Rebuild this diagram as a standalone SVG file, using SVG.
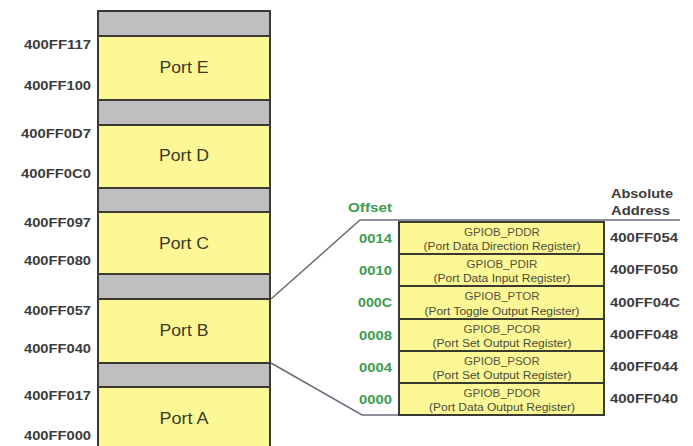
<svg xmlns="http://www.w3.org/2000/svg" width="693" height="446" viewBox="0 0 693 446">
<style>
.bg{fill:#ffffff}
.blk{fill:#FDF896;stroke:#3a3a30;stroke-width:2}
.gap{fill:#BFBFC2;stroke:#3a3a30;stroke-width:2}
.reg{fill:#FDF896;stroke:#3a3a30;stroke-width:2}
.addr{font-family:"Liberation Sans",Arial,sans-serif;font-weight:bold;font-size:13px;fill:#3c3c3c}
.port{font-family:"Liberation Sans",Arial,sans-serif;font-size:16.5px;fill:#3a3a28;text-anchor:middle}
.off{font-family:"Liberation Sans",Arial,sans-serif;font-weight:bold;font-size:13px;fill:#3f9b52}
.rn{font-family:"Liberation Sans",Arial,sans-serif;font-size:11.5px;fill:#55553f;text-anchor:middle}
.rd{font-family:"Liberation Sans",Arial,sans-serif;font-size:10px;fill:#4a4a38;text-anchor:middle}
.conn{fill:none;stroke:#6b6b7b;stroke-width:1.5}
</style>
<rect class="bg" x="0" y="0" width="693" height="446"/>

<g id="connectors">
  <polyline class="conn" points="271,299 360,220 680,220"/>
  <polyline class="conn" points="271,363 362,415 399,415"/>
</g>

<g id="reserved-top"><rect class="gap" x="98" y="11" width="172" height="25"/></g>
<g id="port-e">
  <rect class="blk" x="98" y="36" width="172" height="64"/>
  <text class="port" x="184" y="73" textLength="49" lengthAdjust="spacingAndGlyphs">Port E</text>
  <text class="addr" x="91" y="49" text-anchor="end" textLength="67" lengthAdjust="spacingAndGlyphs">400FF117</text>
  <text class="addr" x="91" y="90" text-anchor="end" textLength="67" lengthAdjust="spacingAndGlyphs">400FF100</text>
</g>
<g id="reserved-ed"><rect class="gap" x="98" y="100" width="172" height="25"/></g>
<g id="port-d">
  <rect class="blk" x="98" y="125" width="172" height="63"/>
  <text class="port" x="184" y="161" textLength="50" lengthAdjust="spacingAndGlyphs">Port D</text>
  <text class="addr" x="91" y="138" text-anchor="end" textLength="70" lengthAdjust="spacingAndGlyphs">400FF0D7</text>
  <text class="addr" x="91" y="178" text-anchor="end" textLength="70" lengthAdjust="spacingAndGlyphs">400FF0C0</text>
</g>
<g id="reserved-dc"><rect class="gap" x="98" y="188" width="172" height="24"/></g>
<g id="port-c">
  <rect class="blk" x="98" y="212" width="172" height="62"/>
  <text class="port" x="184" y="249" textLength="50" lengthAdjust="spacingAndGlyphs">Port C</text>
  <text class="addr" x="91" y="227" text-anchor="end" textLength="67" lengthAdjust="spacingAndGlyphs">400FF097</text>
  <text class="addr" x="91" y="265" text-anchor="end" textLength="67" lengthAdjust="spacingAndGlyphs">400FF080</text>
</g>
<g id="reserved-cb"><rect class="gap" x="98" y="274" width="172" height="25"/></g>
<g id="port-b">
  <rect class="blk" x="98" y="299" width="172" height="64"/>
  <text class="port" x="184" y="336" textLength="49" lengthAdjust="spacingAndGlyphs">Port B</text>
  <text class="addr" x="91" y="315" text-anchor="end" textLength="67" lengthAdjust="spacingAndGlyphs">400FF057</text>
  <text class="addr" x="91" y="353" text-anchor="end" textLength="67" lengthAdjust="spacingAndGlyphs">400FF040</text>
</g>
<g id="reserved-ba"><rect class="gap" x="98" y="363" width="172" height="24"/></g>
<g id="port-a">
  <rect class="blk" x="98" y="387" width="172" height="70"/>
  <text class="port" x="184" y="424" textLength="49" lengthAdjust="spacingAndGlyphs">Port A</text>
  <text class="addr" x="91" y="400" text-anchor="end" textLength="67" lengthAdjust="spacingAndGlyphs">400FF017</text>
  <text class="addr" x="91" y="440" text-anchor="end" textLength="67" lengthAdjust="spacingAndGlyphs">400FF000</text>
</g>

<g id="headers">
  <text class="off" x="348" y="212" textLength="44" lengthAdjust="spacingAndGlyphs">Offset</text>
  <text class="addr" x="611" y="198" textLength="62" lengthAdjust="spacingAndGlyphs">Absolute</text>
  <text class="addr" x="611" y="215" textLength="59" lengthAdjust="spacingAndGlyphs">Address</text>
</g>

<g id="reg-pddr">
  <rect class="reg" x="399" y="222" width="205" height="32"/>
  <text class="rn" x="502" y="236" textLength="76" lengthAdjust="spacingAndGlyphs">GPIOB_PDDR</text>
  <text class="rd" x="502" y="250" textLength="157" lengthAdjust="spacingAndGlyphs">(Port Data Direction Register)</text>
  <text class="off" x="392" y="243" text-anchor="end" textLength="33" lengthAdjust="spacingAndGlyphs">0014</text>
  <text class="addr" x="610" y="242" textLength="68" lengthAdjust="spacingAndGlyphs">400FF054</text>
</g>
<g id="reg-pdir">
  <rect class="reg" x="399" y="254" width="205" height="32"/>
  <text class="rn" x="502" y="268" textLength="71" lengthAdjust="spacingAndGlyphs">GPIOB_PDIR</text>
  <text class="rd" x="502" y="282" textLength="137" lengthAdjust="spacingAndGlyphs">(Port Data Input Register)</text>
  <text class="off" x="392" y="275" text-anchor="end" textLength="33" lengthAdjust="spacingAndGlyphs">0010</text>
  <text class="addr" x="610" y="274" textLength="68" lengthAdjust="spacingAndGlyphs">400FF050</text>
</g>
<g id="reg-ptor">
  <rect class="reg" x="399" y="286" width="205" height="33"/>
  <text class="rn" x="502" y="300" textLength="75" lengthAdjust="spacingAndGlyphs">GPIOB_PTOR</text>
  <text class="rd" x="502" y="315" textLength="155" lengthAdjust="spacingAndGlyphs">(Port Toggle Output Register)</text>
  <text class="off" x="392" y="307" text-anchor="end" textLength="34" lengthAdjust="spacingAndGlyphs">000C</text>
  <text class="addr" x="610" y="307" textLength="70" lengthAdjust="spacingAndGlyphs">400FF04C</text>
</g>
<g id="reg-pcor">
  <rect class="reg" x="399" y="319" width="205" height="32"/>
  <text class="rn" x="502" y="333" textLength="77" lengthAdjust="spacingAndGlyphs">GPIOB_PCOR</text>
  <text class="rd" x="502" y="347" textLength="139" lengthAdjust="spacingAndGlyphs">(Port Set Output Register)</text>
  <text class="off" x="392" y="340" text-anchor="end" textLength="33" lengthAdjust="spacingAndGlyphs">0008</text>
  <text class="addr" x="610" y="339" textLength="68" lengthAdjust="spacingAndGlyphs">400FF048</text>
</g>
<g id="reg-psor">
  <rect class="reg" x="399" y="351" width="205" height="32"/>
  <text class="rn" x="502" y="365" textLength="76" lengthAdjust="spacingAndGlyphs">GPIOB_PSOR</text>
  <text class="rd" x="502" y="379" textLength="139" lengthAdjust="spacingAndGlyphs">(Port Set Output Register)</text>
  <text class="off" x="392" y="372" text-anchor="end" textLength="33" lengthAdjust="spacingAndGlyphs">0004</text>
  <text class="addr" x="610" y="371" textLength="68" lengthAdjust="spacingAndGlyphs">400FF044</text>
</g>
<g id="reg-pdor">
  <rect class="reg" x="399" y="383" width="205" height="32"/>
  <text class="rn" x="502" y="397" textLength="77" lengthAdjust="spacingAndGlyphs">GPIOB_PDOR</text>
  <text class="rd" x="502" y="411" textLength="146" lengthAdjust="spacingAndGlyphs">(Port Data Output Register)</text>
  <text class="off" x="392" y="404" text-anchor="end" textLength="33" lengthAdjust="spacingAndGlyphs">0000</text>
  <text class="addr" x="610" y="403" textLength="68" lengthAdjust="spacingAndGlyphs">400FF040</text>
</g>
</svg>
